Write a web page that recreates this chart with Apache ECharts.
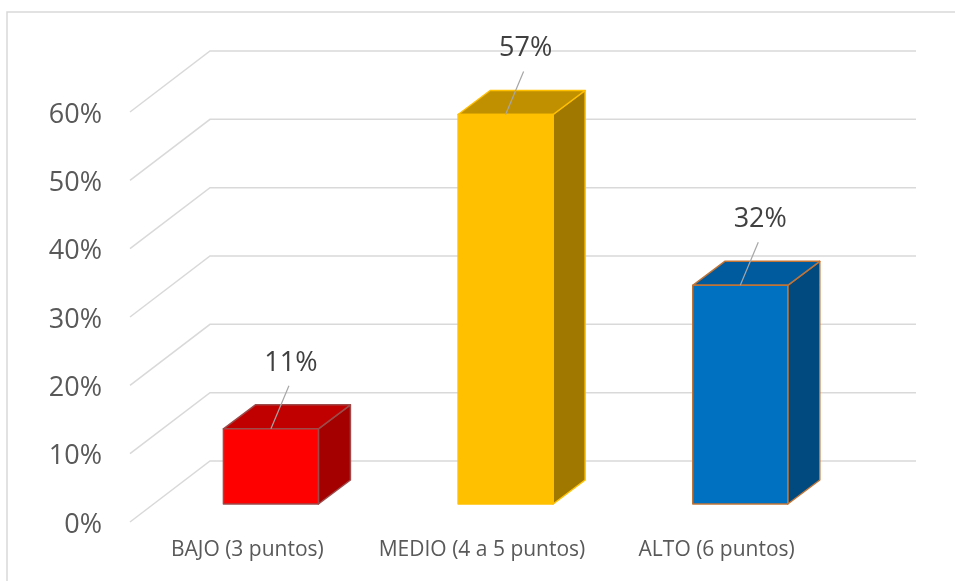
<!DOCTYPE html>
<html>
<head>
<meta charset="utf-8">
<script src="https://cdn.jsdelivr.net/npm/echarts@6/dist/echarts.min.js"></script>
<style>
  html, body { margin: 0; padding: 0; background: #fff; }
  #chart { width: 955px; height: 581px; }
</style>
</head>
<body>
<div id="chart"></div>
<script>
// datos
let categorias = ['BAJO (3 puntos)', 'MEDIO (4 a 5 puntos)', 'ALTO (6 puntos)'];
let valores = [0.11, 0.57, 0.32];
let marcasY = [0, 0.1, 0.2, 0.3, 0.4, 0.5, 0.6];

// colores de cada barra: frente, tapa, lado, borde
let colFrente = ['#FF0000', '#FFC000', '#0070C0'];
let colTapa = ['#C00000', '#C09000', '#005A9E'];
let colLado = ['#A50000', '#A07800', '#004A80'];
let colBorde = ['#9C4A4A', '#FFC000', '#C07436'];

let fuente = 'Open Sans';

let chart = echarts.init(document.getElementById('chart'));

// lineas de la "pared" en forma de L
function gridItem(params, api) {
  let y = api.coord([0, api.value(1)])[1];
  let x0 = params.coordSys.x;
  return {
    type: 'polyline',
    shape: { points: [[x0, y], [x0 + 80, y - 61], [916, y - 61]] },
    style: { stroke: '#D9D9D9', lineWidth: 1.5, fill: null },
    silent: true
  };
}

// barra 3D: frente + tapa + lado + etiqueta
function barItem(params, api) {
  let i = api.value(0);
  let v = api.value(1);
  let top = api.coord([i, v]);
  let base = api.coord([i, 0]);
  let cx = top[0] + 23.6;
  let ty = top[1] - 18;
  let by = base[1] - 18;
  let w = 95, dx = 32, dy = -24;
  let x0 = cx - w / 2, x1 = cx + w / 2;
  let borde = { stroke: colBorde[i], lineWidth: 1.5, lineJoin: 'round' };
  return {
    type: 'group',
    children: [
      {
        type: 'polygon',
        shape: { points: [[x1, ty], [x1 + dx, ty + dy], [x1 + dx, by + dy], [x1, by]] },
        style: Object.assign({ fill: colLado[i] }, borde)
      },
      {
        type: 'polygon',
        shape: { points: [[x0, ty], [x1, ty], [x1 + dx, ty + dy], [x0 + dx, ty + dy]] },
        style: Object.assign({ fill: colTapa[i] }, borde)
      },
      {
        type: 'polygon',
        shape: { points: [[x0, ty], [x1, ty], [x1, by], [x0, by]] },
        style: Object.assign({ fill: colFrente[i] }, borde)
      },
      {
        type: 'line',
        shape: { x1: cx, y1: ty, x2: cx + 18, y2: ty - 43 },
        style: { stroke: '#A6A6A6', lineWidth: 1.2 }
      },
      {
        type: 'text',
        x: cx + 20,
        y: ty - 66,
        style: {
          text: Math.round(v * 100) + '%',
          fill: '#404040',
          font: '27px "' + fuente + '"',
          align: 'center',
          verticalAlign: 'middle'
        }
      }
    ]
  };
}

let opt = {
  backgroundColor: '#fff',
  animation: false,
  graphic: [{
    type: 'rect',
    shape: { x: 7, y: 12, width: 1000, height: 1000 },
    style: { fill: null, stroke: '#D9D9D9', lineWidth: 1.5 },
    silent: true
  }],
  grid: { left: 130, right: 121, top: 112, bottom: 59 },
  xAxis: {
    type: 'category',
    data: categorias,
    axisLine: { show: false },
    axisTick: { show: false },
    axisLabel: {
      interval: 0,
      color: '#595959',
      fontFamily: fuente,
      fontSize: 21,
      margin: 18
    }
  },
  yAxis: {
    type: 'value',
    min: 0,
    max: 0.6,
    interval: 0.1,
    axisLine: { show: false },
    axisTick: { show: false },
    splitLine: { show: false },
    axisLabel: {
      color: '#595959',
      fontFamily: fuente,
      fontSize: 27,
      margin: 28,
      verticalAlign: 'top',
      lineHeight: 6,
      formatter: function (v) { return Math.round(v * 100) + '%'; }
    }
  },
  series: [
    {
      type: 'custom',
      renderItem: gridItem,
      data: marcasY.map(function (v) { return [0, v]; }),
      z: 1,
      clip: false
    },
    {
      type: 'custom',
      renderItem: barItem,
      data: valores.map(function (v, i) { return [i, v]; }),
      z: 2,
      clip: false
    }
  ]
};
chart.setOption(opt);
</script>
</body>
</html>
